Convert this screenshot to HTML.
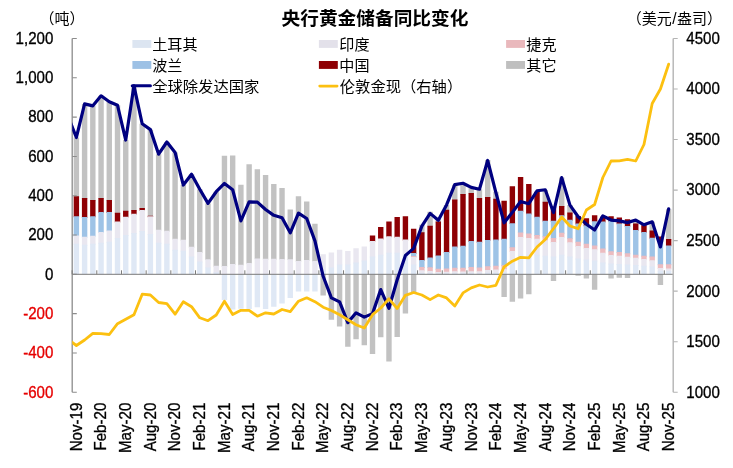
<!DOCTYPE html>
<html lang="zh"><head><meta charset="utf-8"><title>央行黄金储备同比变化</title>
<style>html,body{margin:0;padding:0;background:#fff;}body{width:733px;height:468px;overflow:hidden;font-family:"Liberation Sans",sans-serif;}svg text{font-family:"Liberation Sans","Noto Sans CJK SC",sans-serif;}</style>
</head><body>
<svg width="733" height="468" viewBox="0 0 733 468" style="display:block;will-change:transform">
<rect width="733" height="468" fill="#fff"/>
<defs><clipPath id="pc"><rect x="72.2" y="30" width="601.5" height="370"/></clipPath></defs>
<g shape-rendering="auto">
<path fill="#c2c2c2" d="M73.68 137.49h5.40v59.67h-5.40zM81.91 103.88h5.40v95.05h-5.40zM90.13 105.85h5.40v95.05h-5.40zM98.36 95.82h5.40v103.11h-5.40zM106.58 101.72h5.40v99.18h-5.40zM114.81 105.26h5.40v108.42h-5.40zM123.04 140.05h5.40v71.66h-5.40zM131.26 85.80h5.40v125.13h-5.40zM139.49 123.74h5.40v85.22h-5.40zM147.71 129.63h5.40v86.99h-5.40zM155.94 154.20h5.40v76.38h-5.40zM164.17 142.02h5.40v89.75h-5.40zM172.39 152.43h5.40v87.19h-5.40zM180.62 185.06h5.40v55.54h-5.40zM188.84 174.25h5.40v73.43h-5.40zM197.07 189.19h5.40v63.80h-5.40zM205.30 203.34h5.40v56.72h-5.40zM213.52 191.74h5.40v75.00h-5.40zM221.75 155.77h5.40v111.17h-5.40zM229.97 155.58h5.40v109.30h-5.40zM238.20 184.67h5.40v80.90h-5.40zM246.43 164.23h5.40v99.57h-5.40zM254.65 169.14h5.40v90.14h-5.40zM262.88 175.04h5.40v84.63h-5.40zM271.10 183.88h5.40v75.79h-5.40zM279.33 188.01h5.40v71.86h-5.40zM287.56 209.44h5.40v50.63h-5.40zM295.78 196.27h5.40v65.57h-5.40zM304.01 201.38h5.40v59.47h-5.40zM312.23 223.78h5.40v38.05h-5.40zM320.46 274.30h5.40v21.23h-5.40zM328.69 274.30h5.40v45.41h-5.40zM336.91 274.30h5.40v52.09h-5.40zM345.14 274.30h5.40v72.33h-5.40zM353.36 274.30h5.40v65.06h-5.40zM361.59 274.30h5.40v70.96h-5.40zM369.82 274.30h5.40v79.80h-5.40zM378.04 274.30h5.40v62.90h-5.40zM386.27 274.30h5.40v87.27h-5.40zM394.49 274.30h5.40v62.70h-5.40zM402.72 274.30h5.40v39.31h-5.40zM410.95 274.30h5.40v19.07h-5.40zM419.17 224.77h5.40v8.37h-5.40zM427.40 211.79h5.40v14.86h-5.40zM435.62 218.28h5.40v4.24h-5.40zM443.85 205.11h5.40v5.42h-5.40zM452.08 184.87h5.40v15.64h-5.40zM460.30 183.29h5.40v11.71h-5.40zM468.53 187.42h5.40v6.40h-5.40zM476.75 189.19h5.40v9.75h-5.40zM484.98 159.90h5.40v38.05h-5.40zM493.21 191.74h5.40v7.98h-5.40zM501.43 274.30h5.40v22.80h-5.40zM509.66 274.30h5.40v27.52h-5.40zM517.88 274.30h5.40v24.18h-5.40zM526.11 274.30h5.40v19.85h-5.40zM542.56 189.98h5.40v12.69h-5.40zM550.79 274.30h5.40v6.68h-5.40zM559.01 177.59h5.40v29.40h-5.40zM567.24 205.11h5.40v8.37h-5.40zM575.47 274.30h5.40v1.57h-5.40zM583.69 274.30h5.40v4.13h-5.40zM591.92 274.30h5.40v15.33h-5.40zM608.37 274.30h5.40v4.13h-5.40zM616.60 274.30h5.40v3.54h-5.40zM624.82 274.30h5.40v3.73h-5.40zM633.05 220.05h5.40v4.24h-5.40zM641.27 224.77h5.40v1.49h-5.40zM649.50 221.82h5.40v9.55h-5.40zM657.73 274.30h5.40v10.61h-5.40zM665.95 209.24h5.40v30.58h-5.40z"/>
<path fill="#8e0004" d="M73.68 196.27h5.40v20.95h-5.40zM81.91 198.03h5.40v19.97h-5.40zM90.13 200.00h5.40v17.21h-5.40zM98.36 198.03h5.40v14.86h-5.40zM106.58 200.00h5.40v12.89h-5.40zM114.81 212.78h5.40v9.75h-5.40zM123.04 210.81h5.40v6.80h-5.40zM131.26 210.02h5.40v4.63h-5.40zM139.49 208.06h5.40v2.87h-5.40zM147.71 215.73h5.40v1.49h-5.40zM369.82 235.38h5.40v6.40h-5.40zM378.04 226.93h5.40v12.50h-5.40zM386.27 221.62h5.40v15.64h-5.40zM394.49 217.10h5.40v20.56h-5.40zM402.72 216.31h5.40v24.09h-5.40zM410.95 228.70h5.40v25.27h-5.40zM419.17 232.24h5.40v28.61h-5.40zM427.40 225.75h5.40v32.74h-5.40zM435.62 221.62h5.40v34.71h-5.40zM443.85 209.63h5.40v43.36h-5.40zM452.08 199.61h5.40v47.88h-5.40zM460.30 194.10h5.40v52.60h-5.40zM468.53 192.92h5.40v49.06h-5.40zM476.75 198.03h5.40v44.73h-5.40zM484.98 197.05h5.40v43.75h-5.40zM493.21 198.82h5.40v41.59h-5.40zM501.43 200.79h5.40v38.84h-5.40zM509.66 186.24h5.40v37.85h-5.40zM517.88 177.00h5.40v34.71h-5.40zM526.11 183.88h5.40v30.58h-5.40zM534.34 191.74h5.40v25.86h-5.40zM542.56 201.77h5.40v19.77h-5.40zM550.79 206.49h5.40v15.25h-5.40zM559.01 206.09h5.40v10.14h-5.40zM567.24 212.58h5.40v8.17h-5.40zM575.47 215.92h5.40v8.57h-5.40zM583.69 218.28h5.40v7.98h-5.40zM591.92 215.33h5.40v6.80h-5.40zM600.14 216.71h5.40v5.81h-5.40zM608.37 216.31h5.40v5.42h-5.40zM616.60 217.49h5.40v6.80h-5.40zM624.82 219.26h5.40v7.58h-5.40zM633.05 223.39h5.40v7.58h-5.40zM641.27 225.36h5.40v7.58h-5.40zM649.50 230.47h5.40v8.17h-5.40zM657.73 236.56h5.40v5.22h-5.40zM665.95 238.92h5.40v7.39h-5.40z"/>
<path fill="#9ec3e6" d="M73.68 216.31h5.40v20.16h-5.40zM81.91 217.10h5.40v20.56h-5.40zM90.13 216.31h5.40v20.36h-5.40zM98.36 211.99h5.40v20.95h-5.40zM106.58 211.99h5.40v19.38h-5.40zM410.95 253.07h5.40v3.85h-5.40zM419.17 259.95h5.40v7.98h-5.40zM427.40 257.59h5.40v10.53h-5.40zM435.62 255.43h5.40v14.27h-5.40zM443.85 252.09h5.40v17.21h-5.40zM452.08 246.59h5.40v22.13h-5.40zM460.30 245.80h5.40v22.91h-5.40zM468.53 241.08h5.40v26.85h-5.40zM476.75 241.87h5.40v26.45h-5.40zM484.98 239.90h5.40v27.24h-5.40zM493.21 239.51h5.40v27.04h-5.40zM501.43 238.72h5.40v27.24h-5.40zM509.66 223.19h5.40v25.08h-5.40zM517.88 210.81h5.40v22.52h-5.40zM526.11 213.56h5.40v20.95h-5.40zM534.34 216.71h5.40v19.18h-5.40zM542.56 220.64h5.40v16.62h-5.40zM550.79 220.84h5.40v18.00h-5.40zM559.01 215.33h5.40v18.39h-5.40zM567.24 219.85h5.40v19.18h-5.40zM575.47 223.59h5.40v19.18h-5.40zM583.69 225.36h5.40v19.18h-5.40zM591.92 221.23h5.40v25.08h-5.40zM600.14 221.62h5.40v27.83h-5.40zM608.37 220.84h5.40v31.37h-5.40zM616.60 223.39h5.40v29.60h-5.40zM624.82 225.95h5.40v28.22h-5.40zM633.05 230.07h5.40v25.47h-5.40zM641.27 232.04h5.40v24.68h-5.40zM649.50 237.74h5.40v19.77h-5.40zM657.73 240.88h5.40v24.29h-5.40zM665.95 245.41h5.40v19.77h-5.40z"/>
<path fill="#ecbcc0" d="M410.95 256.02h5.40v1.88h-5.40zM419.17 267.03h5.40v4.24h-5.40zM427.40 267.22h5.40v4.63h-5.40zM435.62 268.80h5.40v4.04h-5.40zM443.85 268.40h5.40v4.24h-5.40zM452.08 267.81h5.40v4.44h-5.40zM460.30 267.81h5.40v4.63h-5.40zM468.53 267.03h5.40v5.03h-5.40zM476.75 267.42h5.40v4.83h-5.40zM484.98 266.24h5.40v4.63h-5.40zM493.21 265.65h5.40v4.83h-5.40zM501.43 265.06h5.40v4.83h-5.40zM509.66 247.37h5.40v4.63h-5.40zM517.88 232.43h5.40v5.42h-5.40zM526.11 233.61h5.40v5.22h-5.40zM534.34 234.99h5.40v4.63h-5.40zM542.56 236.36h5.40v4.83h-5.40zM550.79 237.94h5.40v5.03h-5.40zM559.01 232.83h5.40v5.03h-5.40zM567.24 238.13h5.40v5.03h-5.40zM575.47 241.87h5.40v5.03h-5.40zM583.69 243.64h5.40v5.22h-5.40zM591.92 245.41h5.40v4.83h-5.40zM600.14 248.55h5.40v5.03h-5.40zM608.37 251.30h5.40v4.63h-5.40zM616.60 252.09h5.40v4.44h-5.40zM624.82 253.27h5.40v4.44h-5.40zM633.05 254.64h5.40v4.04h-5.40zM641.27 255.82h5.40v4.04h-5.40zM649.50 256.61h5.40v4.63h-5.40zM657.73 264.28h5.40v4.63h-5.40zM665.95 264.28h5.40v5.03h-5.40z"/>
<path fill="#e9e7f0" d="M73.68 235.58h5.40v9.16h-5.40zM81.91 236.76h5.40v8.96h-5.40zM90.13 235.77h5.40v8.96h-5.40zM98.36 232.04h5.40v11.71h-5.40zM106.58 230.47h5.40v12.30h-5.40zM114.81 221.62h5.40v17.21h-5.40zM123.04 216.71h5.40v19.18h-5.40zM131.26 213.76h5.40v20.16h-5.40zM139.49 210.02h5.40v21.93h-5.40zM147.71 216.31h5.40v18.59h-5.40zM155.94 229.68h5.40v14.07h-5.40zM164.17 230.86h5.40v13.87h-5.40zM172.39 238.72h5.40v11.91h-5.40zM180.62 239.71h5.40v11.91h-5.40zM188.84 246.78h5.40v10.73h-5.40zM197.07 252.09h5.40v10.33h-5.40zM205.30 259.16h5.40v9.16h-5.40zM213.52 265.85h5.40v7.39h-5.40zM221.75 266.04h5.40v8.26h-5.40zM229.97 263.98h5.40v10.32h-5.40zM238.20 264.67h5.40v9.63h-5.40zM246.43 262.90h5.40v11.40h-5.40zM254.65 258.38h5.40v15.92h-5.40zM262.88 258.77h5.40v15.53h-5.40zM271.10 258.77h5.40v15.53h-5.40zM279.33 258.97h5.40v15.33h-5.40zM287.56 259.16h5.40v15.14h-5.40zM295.78 260.93h5.40v13.37h-5.40zM304.01 259.95h5.40v14.35h-5.40zM312.23 260.93h5.40v13.37h-5.40zM320.46 254.25h5.40v17.02h-5.40zM328.69 252.48h5.40v15.84h-5.40zM336.91 249.73h5.40v15.64h-5.40zM345.14 250.91h5.40v14.46h-5.40zM353.36 248.35h5.40v15.05h-5.40zM361.59 246.39h5.40v15.05h-5.40zM369.82 240.88h5.40v16.62h-5.40zM378.04 238.53h5.40v17.02h-5.40zM386.27 236.36h5.40v17.21h-5.40zM394.49 236.76h5.40v16.82h-5.40zM402.72 239.51h5.40v16.04h-5.40zM410.95 257.00h5.40v8.37h-5.40zM419.17 270.37h5.40v3.65h-5.40zM427.40 270.96h5.40v3.06h-5.40zM435.62 271.94h5.40v2.36h-5.40zM443.85 271.74h5.40v2.56h-5.40zM452.08 271.35h5.40v2.87h-5.40zM460.30 271.55h5.40v2.67h-5.40zM468.53 271.16h5.40v3.06h-5.40zM476.75 271.35h5.40v2.87h-5.40zM484.98 269.98h5.40v3.65h-5.40zM493.21 269.58h5.40v4.04h-5.40zM501.43 268.99h5.40v4.24h-5.40zM509.66 251.11h5.40v12.30h-5.40zM517.88 236.95h5.40v18.59h-5.40zM526.11 237.94h5.40v17.61h-5.40zM534.34 238.72h5.40v16.82h-5.40zM542.56 240.30h5.40v16.23h-5.40zM550.79 242.06h5.40v15.45h-5.40zM559.01 236.95h5.40v18.59h-5.40zM567.24 242.26h5.40v15.25h-5.40zM575.47 246.00h5.40v13.48h-5.40zM583.69 247.96h5.40v12.50h-5.40zM591.92 249.34h5.40v12.10h-5.40zM600.14 252.68h5.40v10.73h-5.40zM608.37 255.04h5.40v9.35h-5.40zM616.60 255.63h5.40v9.35h-5.40zM624.82 256.81h5.40v8.57h-5.40zM633.05 257.79h5.40v8.17h-5.40zM641.27 258.97h5.40v7.58h-5.40zM649.50 260.34h5.40v6.99h-5.40zM657.73 268.01h5.40v3.65h-5.40zM665.95 268.40h5.40v3.46h-5.40z"/>
<path fill="#dfe8f5" d="M73.68 243.83h5.40v30.47h-5.40zM81.91 244.82h5.40v29.48h-5.40zM90.13 243.83h5.40v30.47h-5.40zM98.36 242.85h5.40v31.45h-5.40zM106.58 241.87h5.40v32.43h-5.40zM114.81 237.94h5.40v36.36h-5.40zM123.04 234.99h5.40v39.31h-5.40zM131.26 233.02h5.40v41.28h-5.40zM139.49 231.06h5.40v43.24h-5.40zM147.71 234.01h5.40v40.29h-5.40zM155.94 242.85h5.40v31.45h-5.40zM164.17 243.83h5.40v30.47h-5.40zM172.39 249.73h5.40v24.57h-5.40zM180.62 250.71h5.40v23.59h-5.40zM188.84 256.61h5.40v17.69h-5.40zM197.07 261.52h5.40v12.78h-5.40zM205.30 267.42h5.40v6.88h-5.40zM213.52 272.33h5.40v1.97h-5.40zM221.75 274.30h5.40v25.75h-5.40zM229.97 274.30h5.40v35.18h-5.40zM238.20 274.30h5.40v34.40h-5.40zM246.43 274.30h5.40v34.79h-5.40zM254.65 274.30h5.40v33.02h-5.40zM262.88 274.30h5.40v34.79h-5.40zM271.10 274.30h5.40v32.43h-5.40zM279.33 274.30h5.40v29.29h-5.40zM287.56 274.30h5.40v23.59h-5.40zM295.78 274.30h5.40v17.30h-5.40zM304.01 274.30h5.40v17.30h-5.40zM312.23 274.30h5.40v17.30h-5.40zM320.46 270.37h5.40v3.93h-5.40zM328.69 267.42h5.40v6.88h-5.40zM336.91 264.47h5.40v9.83h-5.40zM345.14 264.47h5.40v9.83h-5.40zM353.36 262.51h5.40v11.79h-5.40zM361.59 260.54h5.40v13.76h-5.40zM369.82 256.61h5.40v17.69h-5.40zM378.04 254.64h5.40v19.66h-5.40zM386.27 252.68h5.40v21.62h-5.40zM394.49 252.68h5.40v21.62h-5.40zM402.72 254.64h5.40v19.66h-5.40zM410.95 264.47h5.40v9.83h-5.40zM419.17 273.12h5.40v1.18h-5.40zM427.40 273.12h5.40v1.18h-5.40zM435.62 273.51h5.40v0.79h-5.40zM443.85 273.51h5.40v0.79h-5.40zM452.08 273.32h5.40v0.98h-5.40zM460.30 273.32h5.40v0.98h-5.40zM468.53 273.32h5.40v0.98h-5.40zM476.75 273.32h5.40v0.98h-5.40zM484.98 272.73h5.40v1.57h-5.40zM493.21 272.73h5.40v1.57h-5.40zM501.43 272.33h5.40v1.97h-5.40zM509.66 262.51h5.40v11.79h-5.40zM517.88 254.64h5.40v19.66h-5.40zM526.11 254.64h5.40v19.66h-5.40zM534.34 254.64h5.40v19.66h-5.40zM542.56 255.63h5.40v18.67h-5.40zM550.79 256.61h5.40v17.69h-5.40zM559.01 254.64h5.40v19.66h-5.40zM567.24 256.61h5.40v17.69h-5.40zM575.47 258.58h5.40v15.72h-5.40zM583.69 259.56h5.40v14.74h-5.40zM591.92 260.54h5.40v13.76h-5.40zM600.14 262.51h5.40v11.79h-5.40zM608.37 263.49h5.40v10.81h-5.40zM616.60 264.08h5.40v10.22h-5.40zM624.82 264.47h5.40v9.83h-5.40zM633.05 265.06h5.40v9.24h-5.40zM641.27 265.65h5.40v8.65h-5.40zM649.50 266.44h5.40v7.86h-5.40zM657.73 270.76h5.40v3.54h-5.40zM665.95 270.96h5.40v3.34h-5.40z"/>
</g>
<g stroke="#8c8c8c" stroke-width="1.3" fill="none">
<path d="M72.2 38.5V392.3"/>
<path stroke="#7a7a7a" stroke-width="1" d="M72.2 274.3H673.2"/>
<path stroke-width="1.1" d="M72.2 38.50h4.6M72.2 77.81h4.6M72.2 117.12h4.6M72.2 156.43h4.6M72.2 195.74h4.6M72.2 235.05h4.6M72.2 274.36h4.6M72.2 313.67h4.6M72.2 352.98h4.6M72.2 392.29h4.6"/>
<path stroke="#7a7a7a" stroke-width="1" d="M72.13 274.3v-4M96.80 274.3v-4M121.48 274.3v-4M146.15 274.3v-4M170.83 274.3v-4M195.50 274.3v-4M220.17 274.3v-4M244.85 274.3v-4M269.52 274.3v-4M294.20 274.3v-4M318.87 274.3v-4M343.54 274.3v-4M368.22 274.3v-4M392.89 274.3v-4M417.57 274.3v-4M442.24 274.3v-4M466.91 274.3v-4M491.59 274.3v-4M516.26 274.3v-4M540.94 274.3v-4M565.61 274.3v-4M590.28 274.3v-4M614.96 274.3v-4M639.63 274.3v-4M664.31 274.3v-4"/>
</g>
<g stroke="#b4b4b4" stroke-width="1.4" fill="none">
<path d="M673.2 38.5V392.3"/>
<path stroke-width="1.1" d="M673.2 38.50h4.5M673.2 89.03h4.5M673.2 139.56h4.5M673.2 190.09h4.5M673.2 240.62h4.5M673.2 291.15h4.5M673.2 341.68h4.5M673.2 392.21h4.5"/>
</g>
<g clip-path="url(#pc)" fill="none" stroke-linejoin="round" stroke-linecap="round">
<path stroke="#000080" stroke-width="3.2" d="M68.15 116.46 L76.38 137.49 L84.61 103.88 L92.83 105.85 L101.06 95.82 L109.28 101.72 L117.51 105.26 L125.74 140.05 L133.96 85.80 L142.19 123.74 L150.41 129.63 L158.64 154.20 L166.87 142.02 L175.09 152.43 L183.32 185.06 L191.54 174.25 L199.77 189.19 L208.00 203.34 L216.22 191.74 L224.45 183.49 L232.67 189.78 L240.90 220.84 L249.13 201.97 L257.35 202.16 L265.58 209.44 L273.80 215.33 L282.03 217.69 L290.26 232.83 L298.48 213.17 L306.71 218.48 L314.93 240.88 L323.16 276.27 L331.39 297.89 L339.61 301.82 L347.84 322.65 L356.06 312.83 L364.29 317.15 L372.52 313.61 L380.74 289.63 L388.97 308.30 L397.19 279.80 L405.42 255.43 L413.65 248.35 L421.87 226.14 L430.10 213.37 L438.32 220.25 L446.55 204.91 L454.78 184.67 L463.00 183.29 L471.23 187.42 L479.45 189.19 L487.68 160.49 L495.91 192.53 L504.13 222.80 L512.36 212.38 L520.58 201.57 L528.81 203.73 L537.04 190.76 L545.26 189.78 L553.49 212.58 L561.71 177.59 L569.94 205.11 L578.17 216.71 L586.39 224.18 L594.62 230.07 L602.84 215.92 L611.07 220.05 L619.30 220.84 L627.52 222.60 L635.75 220.05 L643.97 224.77 L652.20 221.82 L660.43 246.98 L668.65 208.85"/>
<path stroke="#fcc010" stroke-width="2.8" d="M68.15 339.50 L76.38 345.50 L84.61 340.00 L92.83 333.30 L101.06 333.70 L109.28 334.50 L117.51 323.70 L125.74 319.20 L133.96 314.70 L142.19 294.20 L150.41 295.00 L158.64 302.50 L166.87 303.70 L175.09 314.20 L183.32 301.70 L191.54 306.70 L199.77 317.80 L208.00 320.70 L216.22 315.00 L224.45 301.20 L232.67 314.50 L240.90 310.30 L249.13 310.30 L257.35 316.20 L265.58 312.80 L273.80 314.00 L282.03 309.50 L290.26 311.70 L298.48 301.20 L306.71 297.80 L314.93 301.70 L323.16 307.20 L331.39 310.50 L339.61 314.70 L347.84 319.70 L356.06 324.70 L364.29 328.00 L372.52 314.70 L380.74 308.00 L388.97 298.80 L397.19 308.50 L405.42 295.30 L413.65 292.50 L421.87 295.00 L430.10 299.60 L438.32 295.00 L446.55 297.90 L454.78 306.00 L463.00 292.90 L471.23 287.90 L479.45 285.00 L487.68 287.00 L495.91 285.30 L504.13 266.80 L512.36 261.20 L520.58 257.30 L528.81 257.80 L537.04 247.00 L545.26 239.50 L553.49 228.70 L561.71 217.00 L569.94 226.00 L578.17 228.70 L586.39 210.00 L594.62 204.50 L602.84 177.50 L611.07 161.00 L619.30 160.80 L627.52 159.40 L635.75 161.00 L643.97 144.50 L652.20 103.50 L660.43 89.00 L668.65 64.20"/>
</g>
<g font-family="'Liberation Sans', sans-serif" font-size="15.1" fill="#000" stroke="#000" stroke-width="0.3">
<text transform="translate(53.4 43.85) scale(1 1.045)" text-anchor="end">1,200</text>
<text transform="translate(53.4 83.16) scale(1 1.045)" text-anchor="end">1,000</text>
<text transform="translate(53.4 122.47) scale(1 1.045)" text-anchor="end">800</text>
<text transform="translate(53.4 161.78) scale(1 1.045)" text-anchor="end">600</text>
<text transform="translate(53.4 201.09) scale(1 1.045)" text-anchor="end">400</text>
<text transform="translate(53.4 240.40) scale(1 1.045)" text-anchor="end">200</text>
<text transform="translate(53.4 279.71) scale(1 1.045)" text-anchor="end">0</text>
<text transform="translate(53.4 319.02) scale(1 1.045)" text-anchor="end" fill="#e60000" stroke="#e60000">-200</text>
<text transform="translate(53.4 358.33) scale(1 1.045)" text-anchor="end" fill="#e60000" stroke="#e60000">-400</text>
<text transform="translate(53.4 397.64) scale(1 1.045)" text-anchor="end" fill="#e60000" stroke="#e60000">-600</text>
<text transform="translate(686.3 43.85) scale(1 1.045)">4500</text>
<text transform="translate(686.3 94.38) scale(1 1.045)">4000</text>
<text transform="translate(686.3 144.91) scale(1 1.045)">3500</text>
<text transform="translate(686.3 195.44) scale(1 1.045)">3000</text>
<text transform="translate(686.3 245.97) scale(1 1.045)">2500</text>
<text transform="translate(686.3 296.50) scale(1 1.045)">2000</text>
<text transform="translate(686.3 347.03) scale(1 1.045)">1500</text>
<text transform="translate(686.3 397.56) scale(1 1.045)">1000</text>
<text transform="translate(81.68 402.7) rotate(-90) scale(1 1.045)" text-anchor="end">Nov-19</text>
<text transform="translate(106.36 402.7) rotate(-90) scale(1 1.045)" text-anchor="end">Feb-20</text>
<text transform="translate(131.04 402.7) rotate(-90) scale(1 1.045)" text-anchor="end">May-20</text>
<text transform="translate(155.71 402.7) rotate(-90) scale(1 1.045)" text-anchor="end">Aug-20</text>
<text transform="translate(180.39 402.7) rotate(-90) scale(1 1.045)" text-anchor="end">Nov-20</text>
<text transform="translate(205.07 402.7) rotate(-90) scale(1 1.045)" text-anchor="end">Feb-21</text>
<text transform="translate(229.75 402.7) rotate(-90) scale(1 1.045)" text-anchor="end">May-21</text>
<text transform="translate(254.43 402.7) rotate(-90) scale(1 1.045)" text-anchor="end">Aug-21</text>
<text transform="translate(279.10 402.7) rotate(-90) scale(1 1.045)" text-anchor="end">Nov-21</text>
<text transform="translate(303.78 402.7) rotate(-90) scale(1 1.045)" text-anchor="end">Feb-22</text>
<text transform="translate(328.46 402.7) rotate(-90) scale(1 1.045)" text-anchor="end">May-22</text>
<text transform="translate(353.14 402.7) rotate(-90) scale(1 1.045)" text-anchor="end">Aug-22</text>
<text transform="translate(377.82 402.7) rotate(-90) scale(1 1.045)" text-anchor="end">Nov-22</text>
<text transform="translate(402.49 402.7) rotate(-90) scale(1 1.045)" text-anchor="end">Feb-23</text>
<text transform="translate(427.17 402.7) rotate(-90) scale(1 1.045)" text-anchor="end">May-23</text>
<text transform="translate(451.85 402.7) rotate(-90) scale(1 1.045)" text-anchor="end">Aug-23</text>
<text transform="translate(476.53 402.7) rotate(-90) scale(1 1.045)" text-anchor="end">Nov-23</text>
<text transform="translate(501.21 402.7) rotate(-90) scale(1 1.045)" text-anchor="end">Feb-24</text>
<text transform="translate(525.88 402.7) rotate(-90) scale(1 1.045)" text-anchor="end">May-24</text>
<text transform="translate(550.56 402.7) rotate(-90) scale(1 1.045)" text-anchor="end">Aug-24</text>
<text transform="translate(575.24 402.7) rotate(-90) scale(1 1.045)" text-anchor="end">Nov-24</text>
<text transform="translate(599.92 402.7) rotate(-90) scale(1 1.045)" text-anchor="end">Feb-25</text>
<text transform="translate(624.60 402.7) rotate(-90) scale(1 1.045)" text-anchor="end">May-25</text>
<text transform="translate(649.27 402.7) rotate(-90) scale(1 1.045)" text-anchor="end">Aug-25</text>
<text transform="translate(673.95 402.7) rotate(-90) scale(1 1.045)" text-anchor="end">Nov-25</text>
</g>
<text x="375" y="24.6" text-anchor="middle" font-family="'Liberation Sans', 'Noto Sans CJK SC', sans-serif" font-size="18.7" font-weight="bold" fill="#000">央行黄金储备同比变化</text>
<text x="39.5" y="23.8" font-family="'Liberation Sans', 'Noto Sans CJK SC', sans-serif" font-size="15" fill="#000">（吨）</text>
<text x="626.8" y="24.1" font-family="'Liberation Sans', 'Noto Sans CJK SC', sans-serif" font-size="15" fill="#000">（美元</text>
<text x="672.3" y="23.6" font-family="'Liberation Sans', sans-serif" font-size="15.6">/</text>
<text x="677" y="24.1" font-family="'Liberation Sans', 'Noto Sans CJK SC', sans-serif" font-size="15" fill="#000">盎司）</text>
<rect x="132.4" y="40.0" width="18.9" height="7.9" fill="#dce5f1"/>
<text x="152.2" y="50" font-family="'Liberation Sans', 'Noto Sans CJK SC', sans-serif" font-size="15.1" fill="#000">土耳其</text>
<rect x="318.9" y="40.0" width="18.9" height="7.9" fill="#e3e1ea"/>
<text x="339.3" y="50" font-family="'Liberation Sans', 'Noto Sans CJK SC', sans-serif" font-size="15.1" fill="#000">印度</text>
<rect x="506.1" y="40.0" width="18.9" height="7.9" fill="#e9b8bc"/>
<text x="526.3" y="50" font-family="'Liberation Sans', 'Noto Sans CJK SC', sans-serif" font-size="15.1" fill="#000">捷克</text>
<rect x="132.4" y="61.0" width="18.9" height="7.9" fill="#9dc1e5"/>
<text x="152.2" y="71" font-family="'Liberation Sans', 'Noto Sans CJK SC', sans-serif" font-size="15.1" fill="#000">波兰</text>
<rect x="318.9" y="61.0" width="18.9" height="7.9" fill="#8e0004"/>
<text x="339.3" y="71" font-family="'Liberation Sans', 'Noto Sans CJK SC', sans-serif" font-size="15.1" fill="#000">中国</text>
<rect x="506.1" y="61.0" width="18.9" height="7.9" fill="#bfbfbf"/>
<text x="526.3" y="71" font-family="'Liberation Sans', 'Noto Sans CJK SC', sans-serif" font-size="15.1" fill="#000">其它</text>
<path d="M132.3 85.75H150.4" stroke="#000080" stroke-width="3.1" stroke-linecap="round"/>
<text x="152.2" y="92" font-family="'Liberation Sans', 'Noto Sans CJK SC', sans-serif" font-size="15.3" fill="#000">全球除发达国家</text>
<path d="M319.7 86.1H337.1" stroke="#fcc010" stroke-width="2.7" stroke-linecap="round"/>
<text x="339.8" y="92" font-family="'Liberation Sans', 'Noto Sans CJK SC', sans-serif" font-size="15.3" fill="#000">伦敦金现（右轴）</text>
</svg>
</body></html>
